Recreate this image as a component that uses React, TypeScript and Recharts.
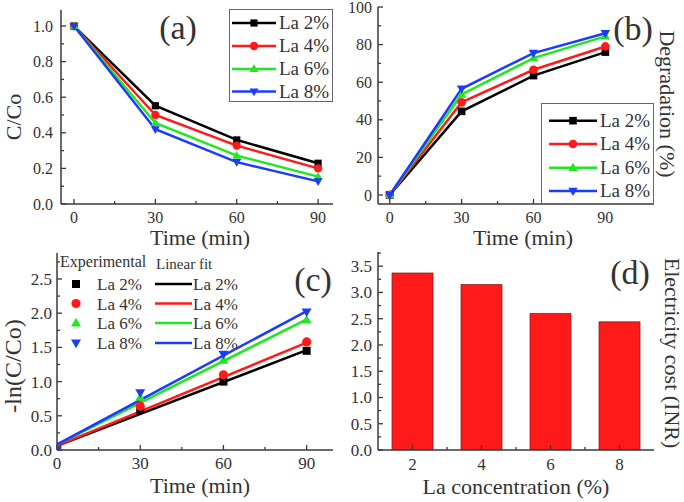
import React from "react";
import { LineChart, Line, BarChart, Bar, XAxis, YAxis, Legend } from "recharts";

const FONT = '"Liberation Serif", "Times New Roman", serif';
const INK = "#333";
const FRAME = "#3a3a3a";

const times = [0, 30, 60, 90];
const seriesNames = ["La 2%", "La 4%", "La 6%", "La 8%"];
const seriesColors = ["#000000", "#ff1a1a", "#22e622", "#1a3cff"];
const seriesShapes = ["square", "circle", "up", "down"];

// (a) C/Co
const ratioLa2 = [1.0, 0.552, 0.36, 0.229];
const ratioLa4 = [1.0, 0.5, 0.328, 0.2];
const ratioLa6 = [1.0, 0.455, 0.272, 0.154];
const ratioLa8 = [1.0, 0.42, 0.235, 0.127];

// (b) degradation (%)
const degLa2 = [0, 44.5, 63.5, 76];
const degLa4 = [0, 49.3, 66.6, 79];
const degLa6 = [0, 53.5, 72.8, 84.4];
const degLa8 = [0, 56.5, 75.5, 86];

// (c) -ln(C/Co), experimental points and linear fit ends
const lnLa2 = [0, 0.59, 1.0, 1.45];
const lnLa4 = [0, 0.64, 1.1, 1.58];
const lnLa6 = [0, 0.77, 1.31, 1.9];
const lnLa8 = [0, 0.84, 1.4, 2.02];
const fitTimes = [0, 90];
const fitLa2 = [0.06, 1.46];
const fitLa4 = [0.06, 1.57];
const fitLa6 = [0.08, 1.91];
const fitLa8 = [0.08, 2.03];

// (d) electricity cost
const concentrations = [2, 4, 6, 8];
const electricityCost = [3.37, 3.15, 2.6, 2.44];

// ticks
const timeMajor = [0, 30, 60, 90];
const timeMinorA = [15, 45, 75];
const timeMinorB = [15, 45, 75, 105];
const ratioMajor = [0, 0.2, 0.4, 0.6, 0.8, 1.0];
const ratioMinor = [0.1, 0.3, 0.5, 0.7, 0.9];
const degMajor = [0, 20, 40, 60, 80, 100];
const degMinor = [10, 30, 50, 70, 90];
const lnMajor = [0, 0.5, 1.0, 1.5, 2.0, 2.5];
const lnMinor = [0.25, 0.75, 1.25, 1.75, 2.25, 2.75];
const costMajor = [0, 0.5, 1.0, 1.5, 2.0, 2.5, 3.0, 3.5];
const costMinor = [0.25, 0.75, 1.25, 1.75, 2.25, 2.75, 3.25, 3.75];
const concMajor = [2, 4, 6, 8];
const concMinor = [3, 5, 7];

const ratioSets = [ratioLa2, ratioLa4, ratioLa6, ratioLa8];
const degSets = [degLa2, degLa4, degLa6, degLa8];
const lnSets = [lnLa2, lnLa4, lnLa6, lnLa8];
const fitSets = [fitLa2, fitLa4, fitLa6, fitLa8];

const rowsA = times.map((t, i) => {
  const r: any = { t };
  ratioSets.forEach((s, k) => (r["s" + k] = s[i]));
  return r;
});
const rowsB = times.map((t, i) => {
  const r: any = { t };
  degSets.forEach((s, k) => (r["s" + k] = s[i]));
  return r;
});
const rowsC = times.map((t, i) => {
  const r: any = { t };
  lnSets.forEach((s, k) => (r["e" + k] = s[i]));
  fitSets.forEach((s, k) => {
    const j = fitTimes.indexOf(t);
    r["f" + k] = j >= 0 ? s[j] : null;
  });
  return r;
});
const rowsD = concentrations.map((c, i) => ({ c, cost: electricityCost[i] }));

const Marker = ({ shape, cx, cy, color, s }: any) => {
  if (cx == null || cy == null) return null;
  if (shape === "square")
    return <rect x={cx - s} y={cy - s} width={2 * s} height={2 * s} fill={color} />;
  if (shape === "circle") return <circle cx={cx} cy={cy} r={s * 1.15} fill={color} />;
  if (shape === "up")
    return (
      <polygon
        points={`${cx},${cy - s * 1.3} ${cx - s * 1.25},${cy + s * 0.85} ${cx + s * 1.25},${cy + s * 0.85}`}
        fill={color}
      />
    );
  return (
    <polygon
      points={`${cx},${cy + s * 1.3} ${cx - s * 1.25},${cy - s * 0.85} ${cx + s * 1.25},${cy - s * 0.85}`}
      fill={color}
    />
  );
};

const dotFor = (k: number, s: number) => (p: any) =>
  <Marker key={`d${k}-${p.index}`} shape={seriesShapes[k]} cx={p.cx} cy={p.cy} color={seriesColors[k]} s={s} />;

// inward ticks with major/minor lengths, labels only on majors
const makeTick =
  (side: "bottom" | "left", majors: number[], margin: number, digits: number, size: number) =>
  (props: any) => {
    const { x, y, payload } = props;
    const v = Number(payload.value);
    const major = majors.some((m) => Math.abs(m - v) < 1e-9);
    const len = major ? 5 : 3;
    if (side === "bottom") {
      const ay = y - margin;
      return (
        <g>
          <line x1={x} x2={x} y1={ay} y2={ay - len} stroke={FRAME} strokeWidth={1.3} />
          {major && (
            <text x={x} y={y} dy="0.72em" textAnchor="middle" fontSize={size} fontFamily={FONT} fill={INK}>
              {v.toFixed(digits)}
            </text>
          )}
        </g>
      );
    }
    const ax = x + margin;
    return (
      <g>
        <line x1={ax} x2={ax + len} y1={y} y2={y} stroke={FRAME} strokeWidth={1.3} />
        {major && (
          <text x={x} y={y} dy="0.35em" textAnchor="end" fontSize={size} fontFamily={FONT} fill={INK}>
            {v.toFixed(digits)}
          </text>
        )}
      </g>
    );
  };

const axisLine = { stroke: FRAME, strokeWidth: 1.5 };

const Title = ({ x, y, size, rotate = 0, children }: any) => (
  <div
    style={{
      position: "absolute",
      left: x,
      top: y,
      transform: `translate(-50%, -50%) rotate(${rotate}deg)`,
      fontSize: size,
      lineHeight: 0.9,
      whiteSpace: "nowrap",
      color: INK,
    }}
  >
    {children}
  </div>
);

const LegendLines = ({ box, rows, x0, x1, tx, size, s }: any) => (
  <svg width={342} height={251} style={{ display: "block" }}>
    <rect x={box[0]} y={box[1]} width={box[2]} height={box[3]} fill="#fff" stroke="#666" strokeWidth={1} />
    {seriesNames.map((n, k) => (
      <g key={n}>
        <line x1={x0} x2={x1} y1={rows[k]} y2={rows[k]} stroke={seriesColors[k]} strokeWidth={2.5} />
        <Marker shape={seriesShapes[k]} cx={(x0 + x1) / 2} cy={rows[k]} color={seriesColors[k]} s={s} />
        <text x={tx} y={rows[k] + size * 0.34} fontSize={size} fontFamily={FONT} fill={INK}>
          {n}
        </text>
      </g>
    ))}
  </svg>
);

const LegendFit = () => {
  const rows = [33, 52.5, 72, 92];
  return (
    <svg width={342} height={251} style={{ display: "block" }}>
      <text x={60} y={16} fontSize={16} fontFamily={FONT} fill={INK}>
        Experimental
      </text>
      <text x={156} y={18} fontSize={15} fontFamily={FONT} fill={INK}>
        Linear fit
      </text>
      {seriesNames.map((n, k) => (
        <g key={n}>
          <Marker shape={seriesShapes[k]} cx={76} cy={rows[k]} color={seriesColors[k]} s={4} />
          <text x={97} y={rows[k] + 6} fontSize={17} fontFamily={FONT} fill={INK}>
            {n}
          </text>
          <line x1={155} x2={192} y1={rows[k]} y2={rows[k]} stroke={seriesColors[k]} strokeWidth={2.5} />
          <text x={193} y={rows[k] + 6} fontSize={17} fontFamily={FONT} fill={INK}>
            {n}
          </text>
        </g>
      ))}
    </svg>
  );
};

const legendWrap = { left: 0, top: 0, width: 342, height: 251, pointerEvents: "none" as const };

export default function App() {
  return (
    <div
      style={{
        position: "fixed",
        left: 0,
        top: 0,
        width: 684,
        height: 502,
        background: "#fff",
        fontFamily: FONT,
        overflow: "hidden",
      }}
    >
      {/* (a) */}
      <div style={{ position: "absolute", left: 0, top: 0 }}>
        <LineChart width={342} height={251} data={rowsA} margin={{ top: 10, right: 9, bottom: 0, left: 0 }}>
          <XAxis
            dataKey="t"
            type="number"
            domain={[-4.8, 95.5]}
            ticks={[...timeMajor, ...timeMinorA]}
            interval={0}
            tickSize={0}
            tickMargin={7}
            tickLine={false}
            tick={makeTick("bottom", timeMajor, 7, 0, 16)}
            height={47}
            axisLine={axisLine}
            allowDataOverflow
          />
          <YAxis
            type="number"
            domain={[0, 1.09]}
            ticks={[...ratioMajor, ...ratioMinor]}
            interval={0}
            tickSize={0}
            tickMargin={8}
            tickLine={false}
            tick={makeTick("left", ratioMajor, 8, 1, 16)}
            width={61}
            axisLine={axisLine}
            allowDataOverflow
          />
          <XAxis xAxisId="top" orientation="top" type="number" domain={[-4.8, 95.5]} height={0} tick={false} tickLine={false} axisLine={axisLine} />
          <YAxis yAxisId="right" orientation="right" type="number" domain={[0, 1.09]} width={0} tick={false} tickLine={false} axisLine={axisLine} />
          <Legend
            layout="vertical"
            align="center"
            verticalAlign="middle"
            wrapperStyle={legendWrap}
            content={() => (
              <LegendLines box={[229.5, 9.5, 103, 92]} rows={[23, 46, 69, 91.5]} x0={232} x1={276} tx={279} size={19} s={3.6} />
            )}
          />
          {seriesNames.map((n, k) => (
            <Line
              key={n}
              name={n}
              dataKey={"s" + k}
              stroke={seriesColors[k]}
              strokeWidth={2.5}
              dot={dotFor(k, 3.6)}
              activeDot={false}
              isAnimationActive={false}
            />
          ))}
        </LineChart>
      </div>

      {/* (b) */}
      <div style={{ position: "absolute", left: 342, top: 0 }}>
        <LineChart width={342} height={251} data={rowsB} margin={{ top: 7, right: 30, bottom: 0, left: 0 }}>
          <XAxis
            dataKey="t"
            type="number"
            domain={[-4.9, 110.3]}
            ticks={[...timeMajor, ...timeMinorB]}
            interval={0}
            tickSize={0}
            tickMargin={7}
            tickLine={false}
            tick={makeTick("bottom", timeMajor, 7, 0, 16)}
            height={47}
            axisLine={axisLine}
            allowDataOverflow
          />
          <YAxis
            type="number"
            domain={[-4.8, 100]}
            ticks={[...degMajor, ...degMinor]}
            interval={0}
            tickSize={0}
            tickMargin={6}
            tickLine={false}
            tick={makeTick("left", degMajor, 6, 0, 16)}
            width={36}
            axisLine={axisLine}
            allowDataOverflow
          />
          <XAxis xAxisId="top" orientation="top" type="number" domain={[-4.9, 110.3]} height={0} tick={false} tickLine={false} axisLine={axisLine} />
          <YAxis yAxisId="right" orientation="right" type="number" domain={[-4.8, 100]} width={0} tick={false} tickLine={false} axisLine={axisLine} />
          <Legend
            layout="vertical"
            align="center"
            verticalAlign="middle"
            wrapperStyle={legendWrap}
            content={() => (
              <LegendLines box={[199.5, 103.5, 112, 100]} rows={[120.7, 144, 167.7, 191]} x0={207} x1={255} tx={258} size={19} s={3.8} />
            )}
          />
          {seriesNames.map((n, k) => (
            <Line
              key={n}
              name={n}
              dataKey={"s" + k}
              stroke={seriesColors[k]}
              strokeWidth={2.5}
              dot={dotFor(k, 3.8)}
              activeDot={false}
              isAnimationActive={false}
            />
          ))}
        </LineChart>
      </div>

      {/* (c) */}
      <div style={{ position: "absolute", left: 0, top: 251 }}>
        <LineChart width={342} height={251} data={rowsC} margin={{ top: 2, right: 9, bottom: 0, left: 0 }}>
          <XAxis
            dataKey="t"
            type="number"
            domain={[0, 99.5]}
            ticks={[...timeMajor, ...timeMinorA]}
            interval={0}
            tickSize={0}
            tickMargin={7}
            tickLine={false}
            tick={makeTick("bottom", timeMajor, 7, 0, 17)}
            height={52}
            axisLine={axisLine}
            allowDataOverflow
          />
          <YAxis
            type="number"
            domain={[0, 2.88]}
            ticks={[...lnMajor, ...lnMinor]}
            interval={0}
            tickSize={0}
            tickMargin={5}
            tickLine={false}
            tick={makeTick("left", lnMajor, 5, 1, 17)}
            width={57}
            axisLine={axisLine}
            allowDataOverflow
          />
          <XAxis xAxisId="top" orientation="top" type="number" domain={[0, 99.5]} height={0} tick={false} tickLine={false} axisLine={axisLine} />
          <YAxis yAxisId="right" orientation="right" type="number" domain={[0, 2.88]} width={0} tick={false} tickLine={false} axisLine={axisLine} />
          <Legend layout="vertical" align="center" verticalAlign="middle" wrapperStyle={legendWrap} content={() => <LegendFit />} />
          {seriesNames.map((n, k) => (
            <Line
              key={"f" + n}
              name={n + " fit"}
              dataKey={"f" + k}
              stroke={seriesColors[k]}
              strokeWidth={2.5}
              dot={false}
              activeDot={false}
              connectNulls
              isAnimationActive={false}
            />
          ))}
          {seriesNames.map((n, k) => (
            <Line
              key={"e" + n}
              name={n}
              dataKey={"e" + k}
              stroke="none"
              dot={dotFor(k, 4)}
              activeDot={false}
              isAnimationActive={false}
            />
          ))}
        </LineChart>
      </div>

      {/* (d) */}
      <div style={{ position: "absolute", left: 342, top: 251 }}>
        <BarChart width={342} height={251} data={rowsD} margin={{ top: 1, right: 30, bottom: 0, left: 0 }}>
          <XAxis
            dataKey="c"
            type="number"
            domain={[1, 9]}
            ticks={[...concMajor, ...concMinor]}
            interval={0}
            tickSize={0}
            tickMargin={8}
            tickLine={false}
            tick={makeTick("bottom", concMajor, 8, 0, 17)}
            height={52}
            axisLine={axisLine}
            allowDataOverflow
          />
          <YAxis
            type="number"
            domain={[0, 3.77]}
            ticks={[...costMajor, ...costMinor]}
            interval={0}
            tickSize={0}
            tickMargin={6}
            tickLine={false}
            tick={makeTick("left", costMajor, 6, 1, 17)}
            width={36}
            axisLine={axisLine}
            allowDataOverflow
          />
          <XAxis xAxisId="top" orientation="top" type="number" domain={[1, 9]} height={0} tick={false} tickLine={false} axisLine={axisLine} />
          <YAxis yAxisId="right" orientation="right" type="number" domain={[0, 3.77]} width={0} tick={false} tickLine={false} axisLine={axisLine} />
          <Bar dataKey="cost" barSize={41} fill="#ff1a1a" stroke="#8a2020" strokeWidth={0.8} isAnimationActive={false} />
        </BarChart>
      </div>

      {/* titles */}
      <Title x={14} y={117} size={22} rotate={-90}>C/Co</Title>
      <Title x={200} y={238} size={22}>Time (min)</Title>
      <Title x={178} y={28} size={34}>(a)</Title>

      <Title x={667} y={104} size={22} rotate={90}>Degradation (%)</Title>
      <Title x={523} y={238} size={22}>Time (min)</Title>
      <Title x={633} y={29} size={34}>(b)</Title>

      <Title x={14} y={366} size={24} rotate={-90}>-ln(C/Co)</Title>
      <Title x={200} y={486} size={22}>Time (min)</Title>
      <Title x={313} y={280} size={34}>(c)</Title>

      <Title x={672} y={353} size={22} rotate={90}>Electricity cost (INR)</Title>
      <Title x={516} y={487} size={22}>La concentration (%)</Title>
      <Title x={630} y={273} size={34}>(d)</Title>
    </div>
  );
}
